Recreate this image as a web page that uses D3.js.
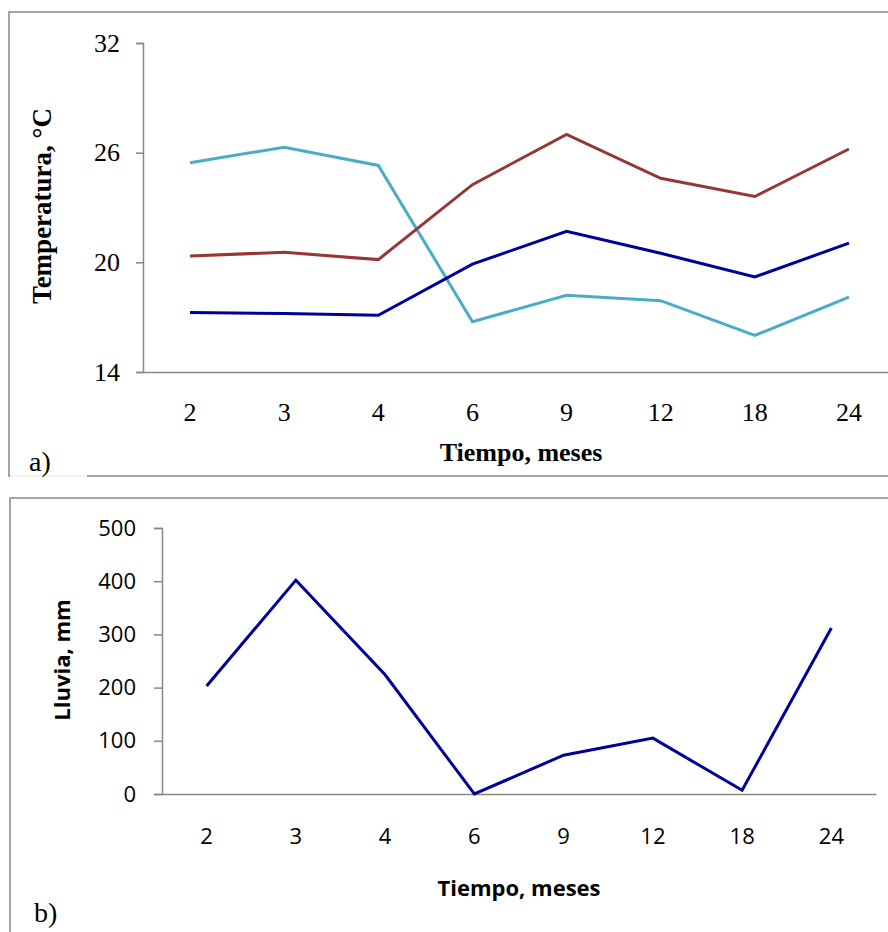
<!DOCTYPE html>
<html>
<head>
<meta charset="utf-8">
<script src="https://cdn.jsdelivr.net/npm/d3@7"></script>
<style>
  body { margin: 0; background: #fff; }
  svg { display: block; }
</style>
</head>
<body>
<div id="chart"></div>
<script>
var months = ["2", "3", "4", "6", "9", "12", "18", "24"]

// temperatura (panel a)
var tempCyan = [25.45, 26.3, 25.3, 16.75, 18.2, 17.9, 16.0, 18.1]
var tempRed = [20.35, 20.55, 20.15, 24.25, 27.0, 24.6, 23.6, 26.2]
var tempBlue = [17.25, 17.2, 17.1, 19.9, 21.7, 20.5, 19.2, 21.05]
var tempTicks = [14, 20, 26, 32]

// lluvia (panel b)
var rain = [203, 402, 224, 0, 73, 105, 7, 312]
var rainTicks = [0, 100, 200, 300, 400, 500]

var width = 888, height = 932
var axisColor = '#878787'
var serif = "'Liberation Serif', 'Times New Roman', serif"

var svg = d3.select("#chart")
    .append("svg")
    .attr("width", width)
    .attr("height", height)

// frames
svg.append("rect")
    .attr("x", 9).attr("y", 12)
    .attr("width", 900).attr("height", 464)
    .attr("fill", "none")
    .attr("stroke", axisColor)
    .attr("stroke-width", 1.5)

// the bit of bottom frame behind "a)" is almost white
svg.append("line")
    .attr("x1", 10).attr("x2", 87)
    .attr("y1", 476).attr("y2", 476)
    .attr("stroke", "#f2f2f2")
    .attr("stroke-width", 2)

svg.append("rect")
    .attr("x", 10).attr("y", 498)
    .attr("width", 900).attr("height", 460)
    .attr("fill", "none")
    .attr("stroke", axisColor)
    .attr("stroke-width", 1.5)

function drawPanel(opts) {
  var g = svg.append("g")

  var x = d3.scaleBand()
      .domain(months)
      .range([opts.left, opts.right])

  var y = d3.scaleLinear()
      .domain(opts.domain)
      .range([opts.bottom, opts.top])

  // y axis
  var yAxis = g.append("g")
      .attr("transform", "translate(" + opts.left + ",0)")
      .call(d3.axisLeft(y).tickValues(opts.ticks).tickSize(opts.tickSize).tickPadding(opts.tickPad))
  yAxis.select(".domain").attr("stroke", axisColor).attr("stroke-width", 1.5)
  yAxis.selectAll(".tick line").attr("stroke", axisColor).attr("stroke-width", 1.5)
  yAxis.selectAll("text")
      .attr("font-family", opts.font)
      .attr("font-size", opts.fontSize)
      .attr("fill", "#000")

  // x axis
  var xAxis = g.append("g")
      .attr("transform", "translate(0," + opts.bottom + ")")
      .call(d3.axisBottom(x).tickSize(0).tickPadding(opts.xPad))
  xAxis.select(".domain").attr("stroke", axisColor).attr("stroke-width", 1.5)
  xAxis.selectAll("text")
      .attr("font-family", opts.font)
      .attr("font-size", opts.fontSize)
      .attr("fill", "#000")

  var line = d3.line()
      .x(function(d, i) { return x(months[i]) + x.bandwidth() / 2 })
      .y(function(d) { return y(d) })

  opts.series.forEach(function(s) {
    g.append("path")
        .datum(s.values)
        .attr("d", line)
        .attr("fill", "none")
        .attr("stroke", s.color)
        .attr("stroke-width", 3)
        .attr("stroke-linejoin", "miter")
  })

  g.append("text")
      .text("Tiempo, meses")
      .attr("x", opts.xTitle[0])
      .attr("y", opts.xTitle[1])
      .attr("text-anchor", "middle")
      .attr("font-family", opts.font)
      .attr("font-size", opts.titleSize)
      .attr("font-weight", "bold")

  g.append("text")
      .text(opts.yTitle)
      .attr("transform", "translate(" + opts.yTitlePos[0] + "," + opts.yTitlePos[1] + ") rotate(-90)")
      .attr("text-anchor", "middle")
      .attr("font-family", opts.font)
      .attr("font-size", opts.yTitleSize)
      .attr("font-weight", "bold")

  g.append("text")
      .text(opts.label)
      .attr("x", opts.labelPos[0])
      .attr("y", opts.labelPos[1])
      .attr("font-family", serif)
      .attr("font-size", 28)
}

drawPanel({
  left: 143, right: 896, top: 43, bottom: 372,
  domain: [14, 32], ticks: tempTicks,
  font: serif,
  fontSize: 26, titleSize: 26, yTitleSize: 27,
  tickSize: 7, tickPad: 16, xPad: 31,
  series: [
    { values: tempCyan, color: '#4bacc6' },
    { values: tempRed, color: '#953735' },
    { values: tempBlue, color: '#000099' }
  ],
  xTitle: [521, 461], yTitle: "Temperatura, °C", yTitlePos: [51, 206],
  label: "a)", labelPos: [29, 471]
})

drawPanel({
  left: 162, right: 876, top: 528, bottom: 794,
  domain: [0, 500], ticks: rainTicks,
  font: "'Open Sans', sans-serif",
  fontSize: 22, titleSize: 22, yTitleSize: 22,
  tickSize: 8, tickPad: 18, xPad: 34,
  series: [
    { values: rain, color: '#000099' }
  ],
  xTitle: [519, 896], yTitle: "Lluvia, mm", yTitlePos: [70, 660],
  label: "b)", labelPos: [34, 922]
})
</script>
</body>
</html>
